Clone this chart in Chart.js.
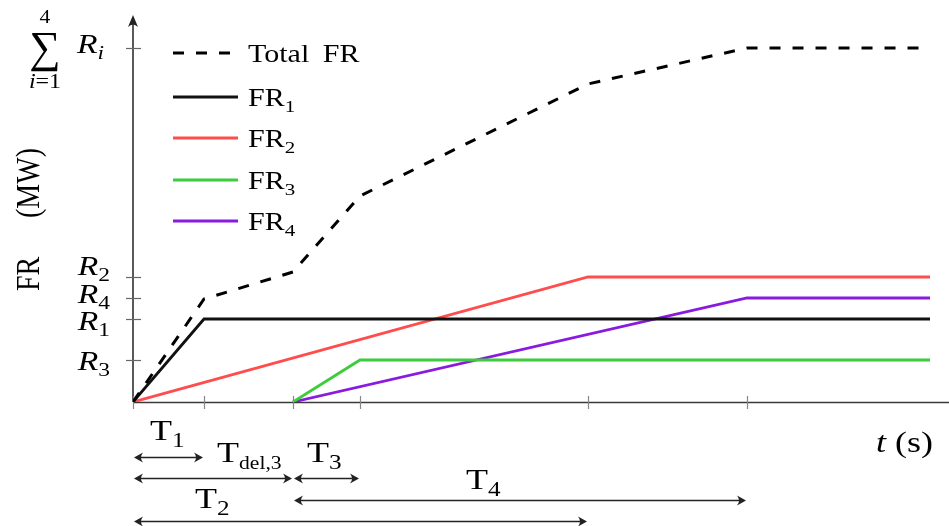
<!DOCTYPE html>
<html><head><meta charset="utf-8">
<script src="https://cdn.jsdelivr.net/npm/chart.js@4.4.0/dist/chart.umd.min.js"></script>
<style>html,body{margin:0;padding:0;background:#fff;}canvas{display:block;}</style>
</head><body>
<canvas id="c" width="949" height="526"></canvas>
<script>
// ---------- data ----------
const seriesNames = ['Total FR', 'FR1', 'FR2', 'FR3', 'FR4'];
const totalT = [0, 7.1, 16.0, 22.7, 45.5, 61.4, 79.7];
const totalFR = [0, 10.3, 13.0, 20.6, 31.8, 35.4, 35.4];
const fr1T = [0, 7.1, 79.7];
const fr1 = [0, 8.3, 8.3];
const fr2T = [0, 45.5, 79.7];
const fr2 = [0, 12.5, 12.5];
const fr3T = [16.0, 22.7, 79.7];
const fr3 = [0, 4.2, 4.2];
const fr4T = [16.0, 61.4, 79.7];
const fr4 = [0, 10.4, 10.4];
const xTickValues = [0, 7.1, 16.0, 22.7, 45.5, 61.4];
const yTickValues = [4.2, 8.3, 10.4, 12.5, 35.4];
const yTickNames = ['3', '1', '4', '2', 'i'];
const spanLabels = ['1', 'del,3', '3', '4', '2'];
const spanFrom = [0, 0, 16.0, 16.0, 0];
const spanTo = [7.1, 16.0, 22.7, 61.4, 45.5];

// ---------- styles ----------
const colors = ['#000000', '#111111', '#ff4d4d', '#3dcc3d', '#8a1ae0'];
const FONT = '"Liberation Serif", "Times New Roman", serif';
const SX = 1.2;
const X_MAX = 81.6, Y_MAX = 38.7;

function toPts(xs, ys) { return xs.map((x, i) => ({ x: x, y: ys[i] })); }

function rich(ctx, parts, x, y, size, align) {
  const items = parts.map(p => {
    const small = p.sub || p.sup;
    const sz = small ? size * (p.scale || 0.7) : size;
    const font = (p.i ? 'italic ' : '') + sz + 'px ' + FONT;
    ctx.font = font;
    return { t: p.t, font: font, w: ctx.measureText(p.t).width, dy: p.sub ? size * 0.22 : (p.sup ? -size * 0.4 : 0), dx: p.dx || 0 };
  });
  const total = items.reduce((a, b) => a + b.w + b.dx, 0) * SX;
  const x0 = align === 'right' ? x - total : (align === 'center' ? x - total / 2 : x);
  ctx.save();
  ctx.translate(x0, y);
  ctx.scale(SX, 1);
  ctx.textAlign = 'left';
  ctx.textBaseline = 'alphabetic';
  ctx.fillStyle = '#000';
  let cx = 0;
  for (const it of items) { cx += it.dx; ctx.font = it.font; ctx.fillText(it.t, cx, it.dy); cx += it.w; }
  ctx.restore();
}

function arrowHead(ctx, x, y, dir) {
  ctx.beginPath();
  ctx.moveTo(x, y);
  ctx.lineTo(x - dir * 9, y - 5);
  ctx.quadraticCurveTo(x - dir * 5, y, x - dir * 9, y + 5);
  ctx.closePath();
  ctx.fill();
}

const axesPlugin = {
  id: 'axesPlugin',
  beforeDatasetsDraw(chart) {
    const ctx = chart.ctx, xs = chart.scales.x, ys = chart.scales.y;
    const x0 = xs.getPixelForValue(0), y0 = ys.getPixelForValue(0);
    const yTop = ys.getPixelForValue(Y_MAX);
    ctx.save();
    ctx.strokeStyle = '#3a3a3a'; ctx.lineWidth = 1.5;
    ctx.beginPath(); ctx.moveTo(x0, y0 + 0.5); ctx.lineTo(chart.chartArea.right, y0 + 0.5); ctx.stroke();
    ctx.strokeStyle = '#222'; ctx.lineWidth = 1.5;
    ctx.beginPath(); ctx.moveTo(x0, y0); ctx.lineTo(x0, yTop + 6); ctx.stroke();
    ctx.fillStyle = '#222';
    ctx.beginPath(); ctx.moveTo(x0, yTop); ctx.lineTo(x0 - 5, yTop + 12); ctx.quadraticCurveTo(x0, yTop + 7, x0 + 5, yTop + 12); ctx.closePath(); ctx.fill();
    ctx.strokeStyle = '#888'; ctx.lineWidth = 1.2;
    xTickValues.forEach(v => { const px = Math.round(xs.getPixelForValue(v)) + 0.5; ctx.beginPath(); ctx.moveTo(px, y0 - 6); ctx.lineTo(px, y0 + 7); ctx.stroke(); });
    ctx.strokeStyle = '#666';
    yTickValues.forEach(v => { const py = Math.round(ys.getPixelForValue(v)) + 0.5; ctx.beginPath(); ctx.moveTo(x0 - 7, py); ctx.lineTo(x0 + 8, py); ctx.stroke(); });
    ctx.restore();
  },
  afterDatasetsDraw(chart) {
    const ctx = chart.ctx, xs = chart.scales.x;
    ctx.save();
    // y tick labels
    const yLabelBase = [370, 330, 303, 275];
    for (let k = 0; k < 4; k++) {
      rich(ctx, [{ t: 'R', i: true }, { t: yTickNames[k], sub: true }], 110, yLabelBase[k], 28, 'right');
    }
    // sum label
    ctx.fillStyle = '#000';
    ctx.font = '44px ' + FONT; ctx.textAlign = 'center'; ctx.textBaseline = 'alphabetic';
    ctx.fillText('\u2211', 45, 62);
    rich(ctx, [{ t: '4' }], 45, 23, 18, 'center');
    rich(ctx, [{ t: 'i', i: true }, { t: '=1' }], 45, 88, 20, 'center');
    rich(ctx, [{ t: 'R', i: true }, { t: yTickNames[4], sub: true, i: true }], 77, 53, 28, 'left');
    // y axis title (rotated)
    ctx.save();
    ctx.translate(30, 291); ctx.rotate(-Math.PI / 2); ctx.scale(1, SX);
    ctx.font = '28px ' + FONT; ctx.textAlign = 'left'; ctx.textBaseline = 'middle';
    ctx.fillStyle = '#000';
    ctx.fillText('FR', 0, 0);
    ctx.fillText('(MW)', 73, 0);
    ctx.restore();
    // x axis title
    rich(ctx, [{ t: 't', i: true }, { t: ' (s)' }], 876, 452, 30, 'left');
    // span arrows
    const rowY = [457, 478, 478, 500, 521];
    ctx.strokeStyle = '#222'; ctx.fillStyle = '#222'; ctx.lineWidth = 1.6;
    for (let k = 0; k < spanFrom.length; k++) {
      const a = xs.getPixelForValue(spanFrom[k]) + 1, b = xs.getPixelForValue(spanTo[k]) - 1;
      ctx.beginPath(); ctx.moveTo(a + 3, rowY[k] + 0.5); ctx.lineTo(b - 3, rowY[k] + 0.5); ctx.stroke();
      arrowHead(ctx, a, rowY[k] + 0.5, -1);
      arrowHead(ctx, b, rowY[k] + 0.5, 1);
    }
    // span labels
    const labX = [150, 217, 307, 466, 195];
    const labY = [440, 462, 462, 489, 508];
    for (let k = 0; k < spanLabels.length; k++) {
      rich(ctx, [{ t: 'T' }, { t: spanLabels[k], sub: true, scale: k === 1 ? 0.6 : 0.7 }], labX[k], labY[k], 30, 'left');
    }
    // legend
    const legY = [53, 97, 138, 180, 221];
    chart.data.datasets.forEach(ds => {
      const k = ds.order;
      ctx.save();
      ctx.strokeStyle = ds.borderColor; ctx.lineWidth = ds.borderWidth;
      ctx.setLineDash(ds.borderDash || []);
      ctx.beginPath(); ctx.moveTo(173, legY[k]); ctx.lineTo(k === 0 ? 232 : 238, legY[k]); ctx.stroke();
      ctx.restore();
      const name = seriesNames[k];
      if (k === 0) rich(ctx, [{ t: 'Total' }, { t: '\u2009 FR' }], 248, legY[k] + 9, 25, 'left');
      else rich(ctx, [{ t: 'FR' }, { t: name.slice(2), sub: true }], 248, legY[k] + 9, 25, 'left');
    });
    ctx.restore();
  }
};

new Chart(document.getElementById('c'), {
  type: 'line',
  data: {
    datasets: [
      { label: seriesNames[2], order: 2, data: toPts(fr2T, fr2), borderColor: colors[2], borderWidth: 2.8 },
      { label: seriesNames[3], order: 3, data: toPts(fr3T, fr3), borderColor: colors[3], borderWidth: 2.8 },
      { label: seriesNames[4], order: 4, data: toPts(fr4T, fr4), borderColor: colors[4], borderWidth: 2.8 },
      { label: seriesNames[0], order: 0, data: toPts(totalT, totalFR), borderColor: colors[0], borderWidth: 3, borderDash: [11, 12] },
      { label: seriesNames[1], order: 1, data: toPts(fr1T, fr1), borderColor: colors[1], borderWidth: 2.8 }
    ]
  },
  options: {
    responsive: false, animation: false, devicePixelRatio: 1,
    layout: { padding: { left: 133, right: 0, top: 15, bottom: 124 } },
    scales: {
      x: { type: 'linear', min: 0, max: X_MAX, display: false },
      y: { type: 'linear', min: 0, max: Y_MAX, display: false }
    },
    elements: { point: { radius: 0 }, line: { tension: 0, borderCapStyle: 'butt', fill: false } },
    plugins: { legend: { display: false }, tooltip: { enabled: false } }
  },
  plugins: [axesPlugin]
});
</script>
</body></html>
